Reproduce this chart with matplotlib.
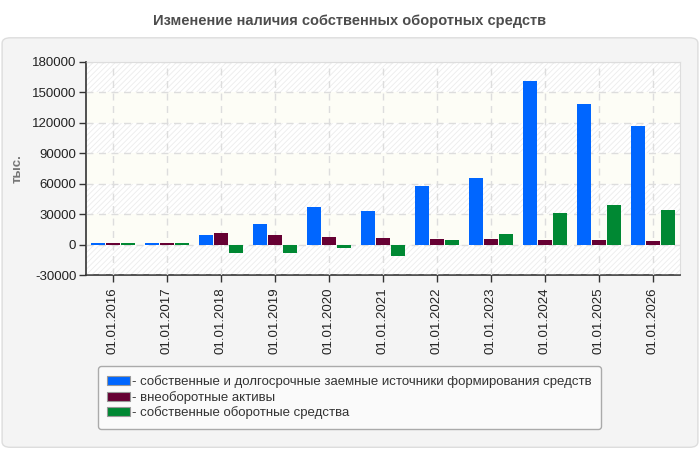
import matplotlib.pyplot as plt
from matplotlib.patches import FancyBboxPatch
import numpy as np

plt.rcParams['font.family'] = ['Liberation Sans', 'DejaVu Sans']
plt.rcParams['hatch.color'] = '#ececec'
plt.rcParams['hatch.linewidth'] = 0.6

dates = ['01.01.2016', '01.01.2017', '01.01.2018', '01.01.2019', '01.01.2020', '01.01.2021',
         '01.01.2022', '01.01.2023', '01.01.2024', '01.01.2025', '01.01.2026']
sources = [2000, 2000, 9000, 20700, 37500, 33500, 58200, 66000, 161700, 139000, 117300]
noncurrent = [2000, 2000, 11200, 9500, 7900, 6900, 5900, 5900, 4900, 4900, 3900]
working = [2000, 2000, -8500, -8500, -3600, -11500, 4900, 10800, 31500, 39400, 34500]
labels = ['- собственные и долгосрочные заемные источники формирования средств',
          '- внеоборотные активы',
          '- собственные оборотные средства']
colors = ['#0066ff', '#660033', '#008833']
yticks = [-30000, 0, 30000, 60000, 90000, 120000, 150000, 180000]

fig = plt.figure(figsize=(7, 4.5), dpi=100)
fig.patch.set_facecolor('white')
panel = FancyBboxPatch((0.003, 0.006), 0.994, 0.91, boxstyle='round,pad=0,rounding_size=0.012',
                       transform=fig.transFigure, facecolor='#f4f4f4', edgecolor='#dddddd',
                       linewidth=1, zorder=-10)
fig.patches.append(panel)
fig.text(0.5, 0.953, 'Изменение наличия собственных оборотных средств', ha='center', va='center',
         fontsize=10.5, fontweight='bold', color='#4d4d4d')

ax = fig.add_axes([86 / 700, 1 - 275 / 450, 594 / 700, 213 / 450])
ax.set_facecolor('white')
x = np.arange(len(dates))
ax.set_xlim(-0.5, len(dates) - 0.5)
ax.set_ylim(-30000, 180000)

# bands: hatched white / plain pale yellow
for i, (lo, hi) in enumerate(zip(yticks[:-1], yticks[1:])):
    if i % 2 == 0:
        ax.axhspan(lo, hi, facecolor='white', edgecolor='#ececec', hatch='//////', linewidth=0, zorder=0)
    else:
        ax.axhspan(lo, hi, facecolor='#fdfdf6', linewidth=0, zorder=0)

w = 0.26
for k, (vals, c, lab) in enumerate(zip([sources, noncurrent, working], colors, labels)):
    ax.bar(x + (k - 1) * 0.278, vals, width=w, color=c, label=lab, zorder=3)

ax.grid(True, color='#dddddd', linestyle=(0, (5, 4)), linewidth=1, zorder=1)
ax.set_axisbelow(False)
ax.set_yticks(yticks)
ax.set_yticklabels([str(v) for v in yticks], fontsize=9.5, color='#222222')
ax.set_xticks(x)
ax.set_xticklabels(dates, rotation=90, fontsize=9.5, color='#222222')
ax.tick_params(axis='both', length=5, width=1, color='#333333', pad=2)
ax.tick_params(axis='x', pad=4)
for s in ['left', 'bottom']:
    ax.spines[s].set_color('#333333')
    ax.spines[s].set_linewidth(1.2)
for s in ['top', 'right']:
    ax.spines[s].set_color('#dddddd')
ax.set_ylabel('тыс.', fontsize=9.5, fontweight='bold', color='#777777')
ax.yaxis.set_label_coords(-62 / 594, 0.5)

leg = fig.legend(loc='upper left', bbox_to_anchor=(98 / 700, 1 - 366 / 450), fontsize=9.5,
                 frameon=True, fancybox=True, handlelength=1.7, handleheight=0.65,
                 handletextpad=0.15, labelspacing=0.2, borderpad=0.7, borderaxespad=0)
leg.get_frame().set_facecolor('#fafafa')
leg.get_frame().set_edgecolor('#aaaaaa')
leg.get_frame().set_alpha(1)
for t in leg.get_texts():
    t.set_color('#333333')
for h in leg.legend_handles:
    h.set_edgecolor('#999999')
    h.set_linewidth(0.8)

fig.savefig('out.png', dpi=100, facecolor='white')
